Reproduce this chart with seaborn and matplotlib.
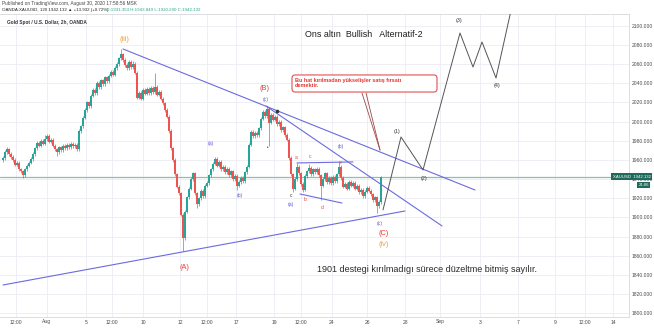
import numpy as np
import matplotlib
matplotlib.use("Agg")
import matplotlib.pyplot as plt
import seaborn as sns
from matplotlib.patches import FancyBboxPatch

# ---- 2h candles: XAUUSD, closes (first open given separately) ----
first_open = 1960
closes = [
    1962, 1968, 1971, 1966, 1963, 1960, 1955, 1957, 1950, 1948,
    1944, 1950, 1954, 1957, 1961, 1966, 1972, 1978, 1975, 1980,
    1977, 1982, 1985, 1979, 1981, 1975, 1971, 1968, 1973, 1970,
    1975, 1972, 1976, 1973, 1977, 1974, 1976, 1971, 1990, 1995,
    2004, 2012, 2020, 2016, 2027, 2033, 2030, 2040, 2036, 2043,
    2039, 2046, 2042, 2048, 2052, 2049, 2056, 2060, 2066, 2070,
    2064, 2059, 2056, 2062, 2057, 2060, 2051, 2025, 2030, 2024,
    2033, 2029, 2034, 2030, 2035, 2031, 2036, 2028, 2031, 2024,
    2019, 2012, 2005, 1990, 1972, 1960, 1945, 1932, 1925, 1903,
    1878, 1906, 1921, 1930, 1940, 1946, 1925, 1914, 1920, 1928,
    1922, 1933, 1936, 1944, 1950, 1956, 1961, 1954, 1958, 1950,
    1953, 1947, 1951, 1944, 1948, 1940, 1943, 1933, 1937, 1941,
    1938, 1947, 1953, 1976, 1989, 1985, 1988, 1986, 1993, 2003,
    2010, 2006, 2013, 1999, 2007, 2002, 2005, 1997, 2000, 1991,
    1994, 1986, 1981, 1962, 1945, 1930, 1940, 1953, 1946, 1935,
    1929, 1943, 1948, 1952, 1945, 1950, 1947, 1951, 1944, 1933,
    1940, 1946, 1937, 1941, 1936, 1942, 1938, 1945, 1953, 1941,
    1932, 1935, 1930, 1937, 1933, 1936, 1930, 1933, 1926, 1929,
    1922, 1927, 1931, 1928, 1924, 1918, 1921, 1912, 1916, 1942.132,
]
# notable wick extremes (candle index -> price)
wick_highs = {2: 1973, 21: 1986, 59: 2076, 65: 2063, 76: 2051, 132: 2016,
              147: 1957, 153: 1956, 168: 1958, 189: 1943}
wick_lows = {10: 1941, 27: 1964, 90: 1865, 97: 1910, 117: 1929,
             133: 1975, 145: 1926, 150: 1926, 159: 1918, 187: 1905}
wick_pad = 1.8

# ---- time axis labels ----
tick_pos = [6.5, 22, 41.5, 54.5, 70, 88.5, 102, 116.5, 135.5, 149,
            164.5, 182, 201, 218.5, 238.5, 257.5, 276, 291, 305]
tick_lab = ["12:00", "Aug", "5", "12:00", "10", "12", "12:00", "17", "19",
            "12:00", "24", "26", "28", "Sep", "3", "7", "9", "12:00", "14"]
price_ticks = list(range(1800, 2101, 20))

# ---- drawings: trend lines (bar, price) ----
trend_lines = [
    ([60, 236], [2075.7, 1928.6]),       # from (iii) top
    ([131.5, 219.5], [2016.2, 1891.1]),  # from (B) top
    ([0, 201], [1829.5, 1906.7]),        # rising support
    ([147, 175], [1956.8, 1957.9]),      # triangle upper edge
    ([148.5, 169.5], [1924.4, 1915.0]),  # triangle lower edge
]
# projected impulse path
proj_x = [190, 199, 210, 228.5, 235, 239.5, 246.5, 254.5]
proj_y = [1907.8, 1983.9, 1949.5, 2092.4, 2056.9, 2083.0, 2045.4, 2120.6]

sns.set_style("white")
plt.rcParams["font.family"] = ["Liberation Sans", "DejaVu Sans"]

fig = plt.figure(figsize=(6.54, 3.28), dpi=100)
ax = fig.add_axes([0, 11 / 328, 629 / 654, 303 / 328])

up_c, dn_c = "#26a69a", "#ef5350"
opens = [first_open] + closes[:-1]
xs = np.arange(len(closes))
cols, bottoms, heights, highs, lows = [], [], [], [], []
for i, (o, c) in enumerate(zip(opens, closes)):
    cols.append(up_c if c >= o else dn_c)
    lo, hi = min(o, c), max(o, c)
    bottoms.append(lo)
    heights.append(max(hi - lo, 0.6))
    highs.append(wick_highs.get(i, hi + wick_pad))
    lows.append(wick_lows.get(i, lo - wick_pad))

ax.vlines(xs, lows, highs, colors=cols, lw=0.5, zorder=3)
ax.bar(xs, heights, bottom=bottoms, width=0.8, color=cols, linewidth=0, zorder=3)

last = closes[-1]
ax.axhline(last, color="#8cbfae", lw=0.9, zorder=2)

line_c = "#6b6be0"
for lx, ly in trend_lines:
    sns.lineplot(x=lx, y=ly, ax=ax, color=line_c, lw=0.8, sort=False,
                 estimator=None, zorder=4)
ax.plot([137], [2011], marker="o", ms=1.6, color="#333333", zorder=5)

sns.lineplot(x=proj_x, y=proj_y, ax=ax, color="#555555", lw=0.7, sort=False,
             estimator=None, zorder=4)

# callout box with pointer
ax.plot([179.5, 188.5], [2029.8, 1970.3], color="#a04848", lw=0.6, zorder=4)
ax.plot([181.5, 188.5], [2029.8, 1970.3], color="#a04848", lw=0.6, zorder=4)
box = FancyBboxPatch((144.5, 2030.8), 72.5, 17.8,
                     boxstyle="round,pad=0,rounding_size=1.6",
                     mutation_aspect=2.08, fc="white", ec="#e05252", lw=0.8,
                     zorder=6)
ax.add_patch(box)
ax.text(146, 2045.6, "Bu hat kırılmadan yükselişler satış fırsatı\ndemektir.",
        fontsize=4.0, fontweight="bold", color="#e53935", va="top", ha="left",
        linespacing=0.95, zorder=7)

# titles / notes
ax.text(151, 2091.3, "Ons altın  Bullish   Alternatif-2", fontsize=6.4,
        color="#1e1e1e", va="center", ha="left", zorder=7)
ax.text(157, 1845.2, "1901 destegi kırılmadıgı sürece düzeltme bitmiş sayılır.",
        fontsize=6.5, color="#2a2a2a", va="center", ha="left", zorder=7)

# wave labels
orange, red, blue = "#eba23c", "#e53935", "#5a5ad6"
big = [("(iii)", 60.5, 2085.1, orange), ("(B)", 131, 2035, red),
       ("(A)", 90.5, 1847.3, red), ("(C)", 190.5, 1883.6, red),
       ("(iv)", 190.5, 1872.0, orange)]
for t, x, y, c in big:
    ax.text(x, y, t, fontsize=5.3, color=c, ha="center", va="center", zorder=7)
for t, x, y in [("(1)", 197, 1990), ("(2)", 210.5, 1941.1),
                ("(3)", 228, 2105.9), ("(4)", 247, 2038.1)]:
    ax.text(x, y, t, fontsize=3.9, color="#333333", ha="center", va="center", zorder=7)
for t, x, y in [("(a)", 104, 1976.6), ("(b)", 118.5, 1922.4), ("(c)", 131.5, 2022.5),
                ("(a)", 144, 1913), ("(b)", 169, 1973.5), ("(c)", 188.5, 1894)]:
    ax.text(x, y, t, fontsize=3.7, color=blue, ha="center", va="center", zorder=7)
for t, x, y in [("a", 146.5, 1962), ("b", 151, 1919.2), ("c", 153.5, 1964),
                ("d", 159.5, 1909.9), ("e", 168.5, 1956.8)]:
    ax.text(x, y, t, fontsize=3.6, color="#e04848", ha="center", va="center", zorder=7)
ax.text(144, 1922.4, "c", fontsize=3.4, color="#333333", ha="center", va="center", zorder=7)
ax.text(132.5, 1972.5, "•", fontsize=3.4, color="#333333", ha="center", va="center", zorder=7)

# axes styling
ax.set_xlim(-1.5, 313)
ax.set_ylim(1796.1, 2112.2)
ax.set_xticks(tick_pos)
ax.set_xticklabels(tick_lab)
ax.set_yticks(price_ticks)
ax.set_yticklabels([f"{p:.3f}" for p in price_ticks])
ax.yaxis.tick_right()
ax.tick_params(axis="both", length=0, labelsize=3.6, colors="#4a4a4a")
ax.tick_params(axis="y", pad=2.0)
ax.tick_params(axis="x", pad=1.8)
ax.grid(True, color="#eaecf2", lw=0.6, zorder=0)
ax.set_axisbelow(True)
for s in ax.spines.values():
    s.set_color("#d8d8dc")
    s.set_linewidth(0.6)
ax.spines["left"].set_visible(False)

# last price tag
ax.annotate("XAUUSD  1942.132", xy=(1, last), xycoords=("axes fraction", "data"),
            xytext=(-11.8, 0.3), textcoords="offset points", fontsize=3.1,
            color="white", ha="left", va="center", annotation_clip=False,
            bbox=dict(boxstyle="square,pad=0.3", fc="#1f6b5b", ec="none"), zorder=8)
ax.annotate("21:06", xy=(1, last), xycoords=("axes fraction", "data"),
            xytext=(6.8, -5.6), textcoords="offset points", fontsize=3.1,
            color="white", ha="left", va="center", annotation_clip=False,
            bbox=dict(boxstyle="square,pad=0.3", fc="#1f6b5b", ec="none"), zorder=8)

# header
fig.text(2 / 654, 1 - 3.5 / 328, "Published on TradingView.com, August 30, 2020 17:58:56 MSK",
         fontsize=3.4, color="#444444", va="center", ha="left")
fig.text(2 / 654, 1 - 10 / 328, "OANDA:XAUUSD, 120 1942.132 ▲ +13.932 (+0.72%)",
         fontsize=3.2, color="#222222", va="center", ha="left")
fig.text(106 / 654, 1 - 10 / 328, "O:1931.353 H:1943.849 L:1920.290 C:1942.132",
         fontsize=3.2, color="#2aa58f", va="center", ha="left")
fig.text(7 / 654, 1 - 22.5 / 328, "Gold Spot / U.S. Dollar, 2h, OANDA",
         fontsize=3.4, color="#333333", fontweight="bold", va="center", ha="left")

fig.savefig("out.png", dpi=100)
